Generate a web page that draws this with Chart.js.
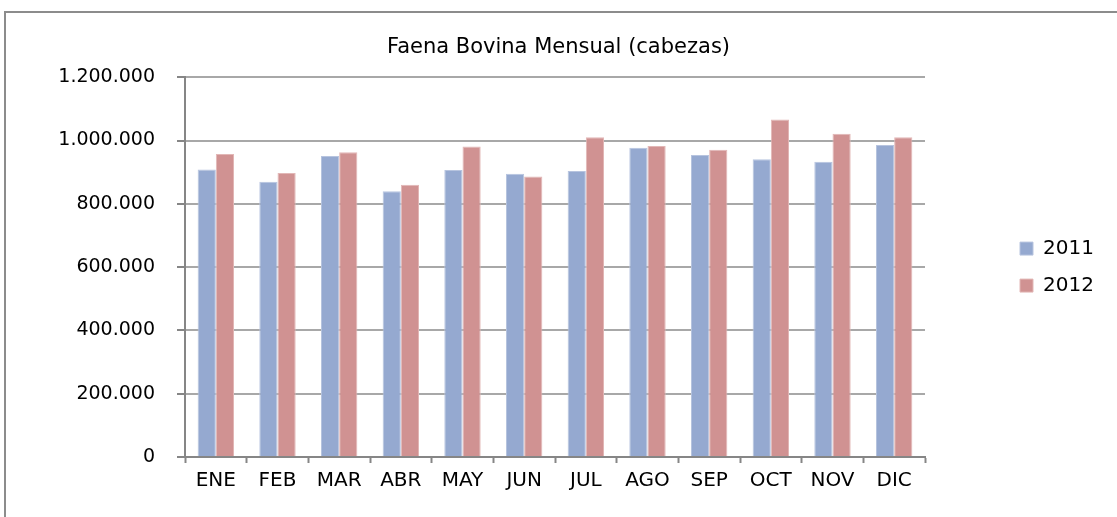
<!DOCTYPE html>
<html>
<head>
<meta charset="utf-8">
<script src="https://cdn.jsdelivr.net/npm/chart.js@4"></script>
<style>
  body { margin: 0; background: #fff; overflow: hidden; }
  #wrap { position: relative; width: 1117px; height: 517px; }
  #frame { position: absolute; left: 4px; top: 11px; width: 1200px; height: 600px; border: 2px solid #8c8c8c; pointer-events: none; }
  canvas { position: absolute; left: 0; top: 0; }
</style>
</head>
<body>
<div id="wrap">
  <div id="frame"></div>
  <canvas id="chart" width="1117" height="517"></canvas>
</div>
<script>
const months = ['ENE', 'FEB', 'MAR', 'ABR', 'MAY', 'JUN', 'JUL', 'AGO', 'SEP', 'OCT', 'NOV', 'DIC'];
const faena2011 = [908000, 870000, 951000, 840000, 907000, 895000, 904000, 977000, 954000, 941000, 933000, 986000];
const faena2012 = [957000, 897000, 963000, 860000, 981000, 886000, 1010000, 983000, 971000, 1066000, 1021000, 1010000];
const yTicks = [0, 200000, 400000, 600000, 800000, 1000000, 1200000];

const font = 'DejaVu Sans';

function fmt(v) {
    return String(v).replace(/\B(?=(\d{3})+(?!\d))/g, '.');
}

// push legend away from plot, like the excel layout
const legendSpot = {
    id: 'legendSpot',
    afterInit(chart) {
        const lg = chart.legend;
        const fit = lg.fit;
        lg.fit = function () {
            fit.call(this);
            this.width = 192;
        };
    },
    afterLayout(chart) {
        const lg = chart.legend;
        lg.left = 1003;
        lg.right = lg.left + lg.width;
    }
};

const ctx = document.getElementById('chart').getContext('2d');
const chart = new Chart(ctx, {
    type: 'bar',
    data: {
        labels: months,
        datasets: [{
            label: '2011',
            data: faena2011,
            backgroundColor: '#95a9d0',
            borderColor: '#b7c4df',
            borderWidth: 1
        }, {
            label: '2012',
            data: faena2012,
            backgroundColor: '#d09292',
            borderColor: '#e2b7b6',
            borderWidth: 1
        }]
    },
    options: {
        responsive: false,
        animation: false,
        categoryPercentage: 0.59,
        barPercentage: 1.0,
        layout: { padding: { top: 0, left: 0, right: 0, bottom: 18 } },
        plugins: {
            title: {
                display: true,
                text: 'Faena Bovina Mensual (cabezas)',
                color: '#000',
                font: { family: font, size: 21, weight: 'normal' },
                padding: { top: 35, bottom: 17 }
            },
            legend: {
                position: 'right',
                fullSize: false,
                labels: {
                    color: '#000',
                    font: { family: font, size: 20 },
                    boxWidth: 13,
                    boxHeight: 13,
                    padding: 17,
                    useBorderRadius: false
                }
            },
            tooltip: { enabled: false }
        },
        scales: {
            x: {
                grid: {
                    drawOnChartArea: false,
                    drawTicks: true,
                    tickLength: 6,
                    tickColor: '#868686',
                    tickWidth: 2
                },
                border: { color: '#868686', width: 2 },
                ticks: {
                    color: '#000',
                    padding: 6,
                    font: { family: font, size: 20 },
                    maxRotation: 0
                }
            },
            y: {
                min: 0,
                max: 1200000,
                afterBuildTicks(scale) {
                    scale.ticks = yTicks.map(v => ({ value: v }));
                },
                afterFit(scale) {
                    scale.width = 185;
                },
                grid: {
                    color: '#a8a8a8',
                    lineWidth: 2,
                    tickLength: 8,
                    tickColor: '#868686'
                },
                border: { color: '#868686', width: 2 },
                ticks: {
                    color: '#000',
                    padding: 22,
                    font: { family: font, size: 19 },
                    callback: v => fmt(v)
                }
            }
        }
    },
    plugins: [legendSpot]
});
</script>
</body>
</html>
